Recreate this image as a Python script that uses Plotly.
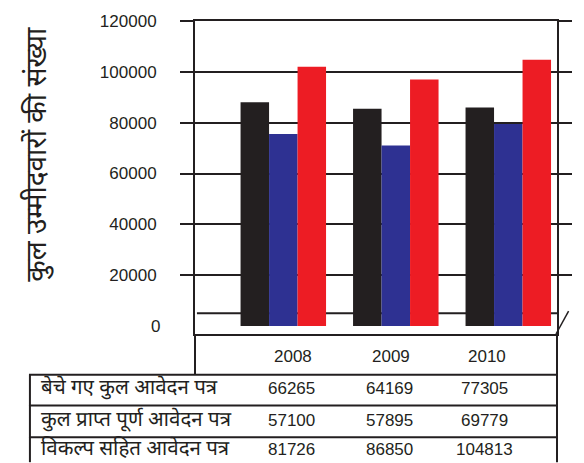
import plotly.graph_objects as go

# ---- data ----
years = ["2008", "2009", "2010"]
series_names = ["बेचे गए कुल आवेदन पत्र", "कुल प्राप्त पूर्ण आवेदन पत्र", "विकल्प सहित आवेदन पत्र"]
# bar heights as drawn in the picture
bar_sold = [88000, 85500, 86000]
bar_received = [75500, 71000, 79500]
bar_options = [102000, 97000, 104800]
# values printed in the table
table_sold = [66265, 64169, 77305]
table_received = [57100, 57895, 69779]
table_options = [81726, 86850, 104813]
y_ticks = [20000, 40000, 60000, 80000, 100000, 120000]
y_title = "कुल उम्मीदवारों की संख्या"

colors = ["#231f20", "#2e3192", "#ed1c24"]
INK = "#231f20"
W, H = 584, 463
L, R, T, B = 195, 570, 19, 334  # plot area in pixels


def xp(px):
    return (px - L) / (R - L)


def yp(py):
    return (B - py) / (B - T)


fig = go.Figure()
for name, vals, c in zip(series_names, [bar_sold, bar_received, bar_options], colors):
    fig.add_trace(go.Bar(x=list(range(len(years))), y=vals, name=name,
                         marker=dict(color=c, line=dict(width=0))))

shapes = []
# floor line behind bars
shapes.append(dict(type="line", xref="paper", yref="y", x0=xp(197), x1=1, y0=5000, y1=5000,
                   line=dict(color=INK, width=2), layer="below"))
# small diagonal mark at bottom right
shapes.append(dict(type="line", xref="paper", yref="paper", x0=xp(569), y0=yp(334), x1=xp(582), y1=yp(311),
                   line=dict(color=INK, width=1.5)))
# left axis extension down to table
shapes.append(dict(type="line", xref="paper", yref="paper", x0=0, x1=0, y0=yp(334), y1=yp(375),
                   line=dict(color=INK, width=2)))
# right border extension through the table
shapes.append(dict(type="line", xref="paper", yref="paper", x0=1, x1=1, y0=yp(334), y1=yp(463),
                   line=dict(color=INK, width=2)))
# table borders
for yy in [375, 406, 438]:
    shapes.append(dict(type="line", xref="paper", yref="paper", x0=xp(23), x1=1, y0=yp(yy), y1=yp(yy),
                       line=dict(color=INK, width=2)))
shapes.append(dict(type="line", xref="paper", yref="paper", x0=xp(24), x1=xp(24), y0=yp(375), y1=yp(463),
                   line=dict(color=INK, width=2)))

ann = []
FONT = "Liberation Sans, Arial, sans-serif"
DEVA = "Noto Sans Devanagari, Lohit Devanagari, Noto Sans, sans-serif"
# zero tick label
ann.append(dict(text="0", xref="paper", yref="y", x=xp(161), y=0, xanchor="right", yanchor="middle",
                showarrow=False, font=dict(size=17, color=INK, family=FONT)))
# y title
ann.append(dict(text=y_title, xref="paper", yref="paper", x=xp(32), y=yp(153), textangle=-90,
                xanchor="center", yanchor="middle", showarrow=False,
                font=dict(size=28, color=INK, family=DEVA)))
col_x = [297, 398, 497]
for yr, cx in zip(years, col_x):
    ann.append(dict(text=yr, xref="paper", yref="paper", x=xp(cx), y=yp(357), xanchor="center",
                    yanchor="middle", showarrow=False, font=dict(size=17, color=INK, family=FONT)))
row_y = [389, 421, 450]
for name, vals, ry in zip(series_names, [table_sold, table_received, table_options], row_y):
    ann.append(dict(text=name, xref="paper", yref="paper", x=xp(33), y=yp(ry), xanchor="left",
                    yanchor="middle", showarrow=False,
                    font=dict(size=20.5, color=INK, family=DEVA)))
    for v, cx in zip(vals, col_x):
        ann.append(dict(text=str(v), xref="paper", yref="paper", x=xp(cx - 2), y=yp(ry), xanchor="center",
                        yanchor="middle", showarrow=False, font=dict(size=17, color=INK, family=FONT)))

fig.update_layout(
    width=W, height=H, autosize=False,
    margin=dict(l=L, r=W - R, t=T, b=H - B, pad=0),
    paper_bgcolor="white", plot_bgcolor="white",
    barmode="group", bargap=0.24, bargroupgap=0,
    showlegend=False,
    shapes=shapes, annotations=ann,
    font=dict(family=FONT, color=INK, size=17),
)
fig.update_xaxes(range=[-0.785, 2.433], showticklabels=False, ticks="", showgrid=False, zeroline=False,
                 showline=True, linecolor=INK, linewidth=2, mirror=True, fixedrange=True)
fig.update_yaxes(range=[-3143, 120000], tickvals=y_ticks, ticktext=[str(v) for v in y_ticks],
                 ticks="outside", ticklen=13, tickwidth=2, tickcolor=INK,
                 showgrid=True, gridcolor=INK, gridwidth=2, zeroline=False,
                 showline=True, linecolor=INK, linewidth=2, mirror="ticks",
                 ticklabelstandoff=20, tickfont=dict(size=17, color=INK, family=FONT), fixedrange=True)

fig.write_html("out.html", config={"displayModeBar": False},
               post_script="document.body.style.margin='0';document.body.style.overflow='hidden';")
